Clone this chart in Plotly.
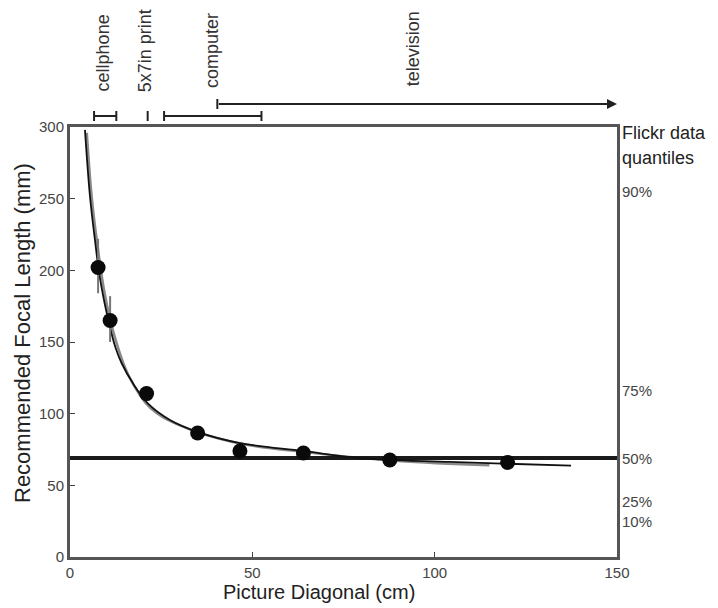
import plotly.graph_objects as go

# Measured points (picture diagonal in cm, recommended focal length in mm)
diag_cm = [7.7, 11.0, 21.0, 35.0, 46.6, 64.0, 87.7, 120.0]
focal_mm = [202, 165, 114, 86.5, 74, 72.6, 67.7, 66]
err_plus = [20, 17, 0, 0, 0, 0, 0, 0]
err_minus = [18, 15, 0, 0, 0, 0, 0, 0]

# Fitted curve
fit_x = [4.1, 5.5, 6.85, 8.0, 9.5, 11.0, 12.5, 14.2, 17.3, 21.4, 27.4, 34.7, 46.6, 63.9, 79.5, 104, 137.4]
fit_y = [298, 251, 221, 198, 177, 160, 146, 135, 121, 107, 95.6, 87.5, 79.5, 74, 69, 66.3, 63.7]

# Second (grey) fit, almost on top of the black one
fit2_x = [4.6, 6.0, 7.5, 9.5, 12.0, 16.0, 22.0, 30.0, 45.0, 65.0, 90.0, 115.0]
fit2_y = [296, 250, 218, 184, 156, 127, 104, 92, 80, 73, 67, 64]

# Flickr quantiles of focal length
median_focal = 69
quantile_labels = ["90%", "75%", "50%", "25%", "10%"]
quantile_values = [255, 116.5, 68.4, 38.4, 25]

# Typical display sizes (cm)
ranges = [("cellphone", 6.6, 12.7), ("computer", 25.8, 52.5)]
print_5x7 = 21.3
tv_start, tv_end = 40.4, 150

fig = go.Figure()

fig.add_trace(go.Scatter(
    x=fit2_x, y=fit2_y, mode="lines", line_shape="spline",
    line=dict(color="#8a8a8a", width=2.5), hoverinfo="skip"
))
fig.add_trace(go.Scatter(
    x=[0, 150], y=[median_focal, median_focal], mode="lines",
    line=dict(color="#1a1a1a", width=4), hoverinfo="skip"
))
fig.add_trace(go.Scatter(
    x=fit_x, y=fit_y, mode="lines", line_shape="spline",
    line=dict(color="#111111", width=1.8), hoverinfo="skip"
))
fig.add_trace(go.Scatter(
    x=diag_cm, y=focal_mm, mode="markers",
    marker=dict(size=15, color="#0a0a0a"),
    error_y=dict(type="data", symmetric=False, array=err_plus, arrayminus=err_minus,
                 color="#777777", thickness=2, width=0),
))

font = "Liberation Sans, Arial, sans-serif"
bar_y = 1 + 11 / 430
tv_y = 1 + 23 / 430
cap = 5 / 430

shapes = []
for name, x0, x1 in ranges:
    shapes.append(dict(type="line", xref="x", yref="y domain", x0=x0, x1=x1, y0=bar_y, y1=bar_y,
                       line=dict(color="#222", width=2)))
    for xc in (x0, x1):
        shapes.append(dict(type="line", xref="x", yref="y domain", x0=xc, x1=xc,
                           y0=bar_y - cap, y1=bar_y + cap, line=dict(color="#222", width=2)))
shapes.append(dict(type="line", xref="x", yref="y domain", x0=print_5x7, x1=print_5x7,
                   y0=bar_y - cap, y1=bar_y + cap, line=dict(color="#222", width=2)))
shapes.append(dict(type="line", xref="x", yref="y domain", x0=tv_start, x1=tv_start,
                   y0=tv_y - cap, y1=tv_y + cap, line=dict(color="#222", width=2)))

annotations = [
    dict(x=tv_end, y=tv_y, xref="x", yref="y domain", ax=tv_start, ay=tv_y, axref="x",
         ayref="y domain", showarrow=True, arrowhead=2, arrowsize=1, arrowwidth=2,
         arrowcolor="#222", text=""),
]
label_pos = [("cellphone", 9.3, 34), ("5x7in print", 20.8, 33), ("computer", 38.8, 37),
             ("television", 94.0, 39)]
for txt, xp, off in label_pos:
    annotations.append(dict(x=xp, y=1 + off / 430, xref="x", yref="y domain", text=txt,
                            textangle=-90, showarrow=False, yanchor="bottom", xanchor="center",
                            font=dict(family=font, size=18, color="#333")))
annotations.append(dict(x=1.005, y=1 - 6 / 430, xref="paper", yref="y domain", text="Flickr data",
                        showarrow=False, xanchor="left", yanchor="middle",
                        font=dict(family=font, size=18, color="#222")))
annotations.append(dict(x=1.005, y=1 - 31 / 430, xref="paper", yref="y domain", text="quantiles",
                        showarrow=False, xanchor="left", yanchor="middle",
                        font=dict(family=font, size=18, color="#222")))
for lab, val in zip(quantile_labels, quantile_values):
    annotations.append(dict(x=1.005, y=val, xref="paper", yref="y", text=lab, showarrow=False,
                            xanchor="left", yanchor="middle",
                            font=dict(family=font, size=15, color="#444")))

# axis titles placed by hand
annotations.append(dict(x=(319 - 70) / 547, y=-35 / 430, xref="paper", yref="y domain",
                        text="Picture Diagonal (cm)", showarrow=False, xanchor="center",
                        yanchor="middle", font=dict(family=font, size=20, color="#222")))
annotations.append(dict(x=(22 - 70) / 547, y=(557 - 333) / 430, xref="paper", yref="y domain",
                        text="Recommended Focal Length (mm)", textangle=-90, showarrow=False,
                        xanchor="center", yanchor="middle",
                        font=dict(family=font, size=22, color="#222")))

fig.update_layout(
    width=710, height=600,
    margin=dict(l=62, r=101, t=119, b=51, autoexpand=False),
    paper_bgcolor="white", plot_bgcolor="white",
    showlegend=False,
    shapes=shapes, annotations=annotations,
    font=dict(family=font, color="#333"),
)
fig.update_xaxes(
    range=[0, 150], tickvals=[0, 50, 100, 150], ticks="inside", ticklen=5, tickcolor="#444",
    showline=True, linecolor="#555", linewidth=3, mirror=True, showgrid=False, zeroline=False,
    tickfont=dict(size=15, color="#444"), automargin=False,
)
fig.update_yaxes(
    range=[0, 300], tickvals=[0, 50, 100, 150, 200, 250, 300], ticks="inside", ticklen=5,
    tickcolor="#444",
    showline=True, linecolor="#555", linewidth=3, mirror=True, showgrid=False, zeroline=False,
    tickfont=dict(size=15, color="#444"), automargin=False,
)

fig.write_html("out.html")
